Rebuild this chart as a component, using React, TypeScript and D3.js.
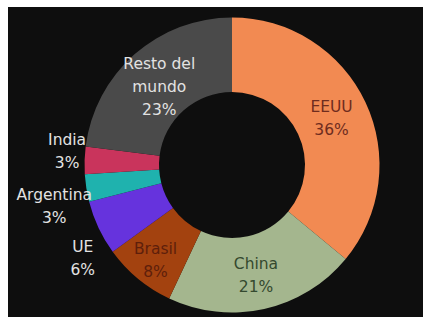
import * as d3 from 'd3'

const countries = ['EEUU', 'China', 'Brasil', 'UE', 'Argentina', 'India', 'Resto del mundo']
const shares = [36, 21, 8, 6, 3, 3, 23]
const labelLines = [['EEUU'], ['China'], ['Brasil'], ['UE'], ['Argentina'], ['India'], ['Resto del', 'mundo']]

const colors = ['#f28a52', '#a4b68e', '#a3420f', '#6633dd', '#1fb2ae', '#c9345c', '#4a4a4a']
const textColors = ['#6e2c1e', '#34492f', '#5e1f0b', '#e2e2e2', '#e2e2e2', '#e2e2e2', '#e2e2e2']
// radius for each label + vertical nudge (outside labels follow Excel's layout)
const labelPlace = [
  { r: 110, dy: 0 },
  { r: 110, dy: 3 },
  { r: 120, dy: 3 },
  { r: 165, dy: 23 },
  { r: 180, dy: 13 },
  { r: 165, dy: -9 },
  { r: 110, dy: 4 },
]

const W = 423
const H = 317
const cx = 232
const cy = 165
const outerR = 147.5
const innerR = 73
const lineH = 23

export default function App() {
  const pie = d3
    .pie<number>()
    .sort(null)
    .value(d => d)
  const arcs = pie(shares)

  const arc = d3
    .arc<d3.PieArcDatum<number>>()
    .innerRadius(innerR)
    .outerRadius(outerR)

  return (
    <svg
      width={W}
      height={H}
      style={{ position: 'absolute', left: 0, top: 0 }}
      fontFamily="DejaVu Sans, sans-serif"
    >
      <rect width={W} height={H} fill="#ffffff" />
      <rect x={8} y={7} width={W - 8} height={H - 7} fill="#0e0e0e" />
      <g transform={`translate(${cx},${cy})`}>
        {arcs.map((a, i) => (
          <path key={countries[i]} d={arc(a) ?? ''} fill={colors[i]} />
        ))}
        {arcs.map((a, i) => {
          const mid = (a.startAngle + a.endAngle) / 2
          const { r, dy } = labelPlace[i]
          const x = Math.sin(mid) * r
          const y = -Math.cos(mid) * r + dy
          const lines = [...labelLines[i], `${shares[i]}%`]
          const top = y - ((lines.length - 1) * lineH) / 2
          return (
            <text
              key={'l' + countries[i]}
              x={x}
              textAnchor="middle"
              fontSize={15.5}
              fill={textColors[i]}
            >
              {lines.map((t, j) => (
                <tspan key={j} x={x} y={top + j * lineH} dy="0.35em">
                  {t}
                </tspan>
              ))}
            </text>
          )
        })}
      </g>
    </svg>
  )
}
